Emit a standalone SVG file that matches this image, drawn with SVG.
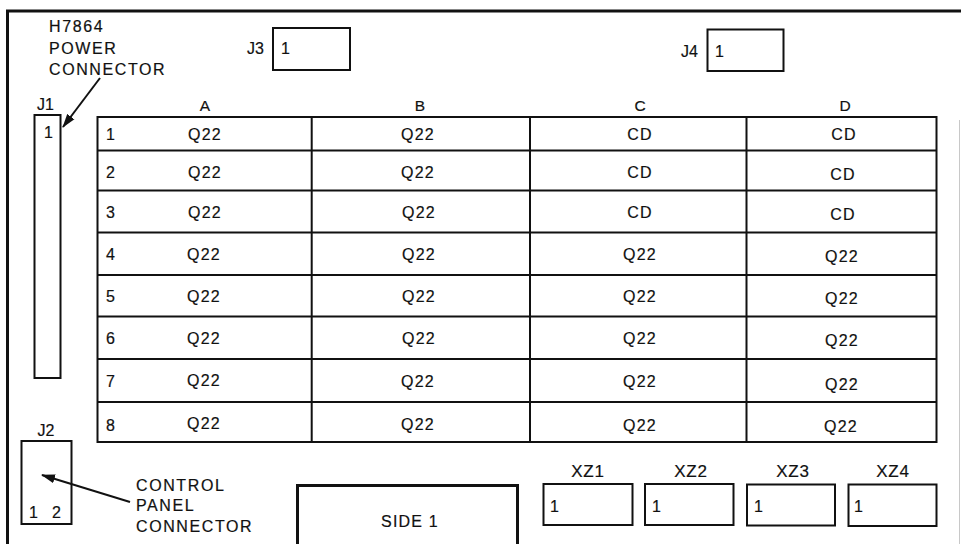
<svg xmlns="http://www.w3.org/2000/svg" width="961" height="544" viewBox="0 0 961 544">
<style>
text{font-family:"Liberation Sans",Arial,sans-serif;fill:#111;stroke:#111;stroke-width:0.2px;}
.lbl{font-size:16px;letter-spacing:1.6px;}
.t{font-size:16px;}
.hd{font-size:15.5px;text-anchor:middle;}
.cell{font-size:16px;text-anchor:middle;letter-spacing:1.2px;}
.xz{font-size:17px;text-anchor:middle;letter-spacing:0.8px;}
.box{fill:none;stroke:#111;stroke-width:2;}
.thick{fill:none;stroke:#111;stroke-width:3;}
.grid{fill:none;stroke:#111;stroke-width:2;}
.arrow{fill:none;stroke:#111;stroke-width:2;marker-end:url(#ah);}
</style>
<defs>
<marker id="ah" markerUnits="userSpaceOnUse" markerWidth="14" markerHeight="10" viewBox="0 0 14 10" refX="13" refY="5" orient="auto">
<path d="M0,0.5 L14,5 L0,9.5 Z" fill="#111"/>
</marker>
</defs>
<rect x="0" y="0" width="961" height="544" fill="#fff"/>
<g id="frame">
<path d="M7.5 544 V11 H961" class="thick"/>
<line x1="959.5" y1="120" x2="959.5" y2="544" stroke="#c8c8c8" stroke-width="1"/>
</g>
<g id="power-label">
<text class="lbl" x="49" y="32">H7864</text>
<text class="lbl" x="49" y="53.5">POWER</text>
<text class="lbl" x="49" y="75">CONNECTOR</text>
</g>
<g id="J3">
<text class="t" x="247" y="54">J3</text>
<rect class="box" x="273" y="28" width="77" height="42"/>
<text class="t" x="281" y="54">1</text>
</g>
<g id="J4">
<text class="t" x="681" y="56.5">J4</text>
<rect class="box" x="707.5" y="29.5" width="76" height="41.5"/>
<text class="t" x="715" y="56.5">1</text>
</g>
<g id="J1">
<text class="t" x="37" y="110">J1</text>
<rect class="box" x="34.5" y="115" width="26" height="263"/>
<text class="t" x="44" y="138">1</text>
</g>
<g id="table">
<rect class="grid" x="97.5" y="117" width="839" height="325"/>
<path class="grid" d="M97.5 150.5H936.5M97.5 190.5H936.5M97.5 232.5H936.5M97.5 275H936.5M97.5 316.5H936.5M97.5 359H936.5M97.5 402H936.5M311.7 117V442M530 117V442M746.5 117V442"/>
<text class="hd" x="205" y="111">A</text>
<text class="hd" x="420" y="111">B</text>
<text class="hd" x="640" y="111">C</text>
<text class="hd" x="845" y="111">D</text>
<g class="t">
<text x="106" y="140">1</text>
<text x="106" y="178">2</text>
<text x="106" y="218">3</text>
<text x="106" y="260">4</text>
<text x="106" y="302">5</text>
<text x="106" y="344">6</text>
<text x="106" y="387">7</text>
<text x="106" y="431">8</text>
</g>
<g id="colA">
<text class="cell" x="205" y="140">Q22</text>
<text class="cell" x="205" y="178">Q22</text>
<text class="cell" x="205" y="218">Q22</text>
<text class="cell" x="204" y="260">Q22</text>
<text class="cell" x="204" y="302">Q22</text>
<text class="cell" x="204" y="344">Q22</text>
<text class="cell" x="204" y="386">Q22</text>
<text class="cell" x="204" y="429">Q22</text>
</g>
<g id="colB">
<text class="cell" x="418" y="140">Q22</text>
<text class="cell" x="418" y="178">Q22</text>
<text class="cell" x="419" y="218">Q22</text>
<text class="cell" x="419" y="260">Q22</text>
<text class="cell" x="419" y="302">Q22</text>
<text class="cell" x="419" y="344">Q22</text>
<text class="cell" x="418" y="387">Q22</text>
<text class="cell" x="418" y="430">Q22</text>
</g>
<g id="colC">
<text class="cell" x="640" y="140">CD</text>
<text class="cell" x="640" y="178">CD</text>
<text class="cell" x="640" y="218">CD</text>
<text class="cell" x="640" y="260">Q22</text>
<text class="cell" x="640" y="302">Q22</text>
<text class="cell" x="640" y="344">Q22</text>
<text class="cell" x="640" y="387">Q22</text>
<text class="cell" x="640" y="431">Q22</text>
</g>
<g id="colD">
<text class="cell" x="844" y="140">CD</text>
<text class="cell" x="843" y="180">CD</text>
<text class="cell" x="843" y="220">CD</text>
<text class="cell" x="842" y="262">Q22</text>
<text class="cell" x="842" y="304">Q22</text>
<text class="cell" x="842" y="346">Q22</text>
<text class="cell" x="842" y="390">Q22</text>
<text class="cell" x="841" y="432">Q22</text>
</g>
</g>
<g id="J2">
<text class="t" x="46" y="436" text-anchor="middle">J2</text>
<rect class="box" x="21.5" y="441" width="50" height="83"/>
<text class="t" x="29" y="518">1</text>
<text class="t" x="52" y="518">2</text>
</g>
<g id="control-label">
<text class="lbl" x="136" y="490.5">CONTROL</text>
<text class="lbl" x="136" y="511">PANEL</text>
<text class="lbl" x="136" y="531.5">CONNECTOR</text>
</g>
<g id="SIDE1">
<path class="thick" d="M297.5 545 V485.5 H517.5 V545"/>
<text class="t" x="410" y="527" text-anchor="middle" letter-spacing="1.2">SIDE 1</text>
</g>
<g id="XZ1">
<text class="xz" x="588" y="477">XZ1</text>
<rect class="box" x="543.5" y="484" width="89" height="41"/>
<text class="t" x="550" y="512">1</text>
</g>
<g id="XZ2">
<text class="xz" x="691" y="477">XZ2</text>
<rect class="box" x="645" y="484" width="88.5" height="41"/>
<text class="t" x="652" y="512">1</text>
</g>
<g id="XZ3">
<text class="xz" x="793" y="477">XZ3</text>
<rect class="box" x="747" y="484.5" width="88" height="41"/>
<text class="t" x="754" y="512">1</text>
</g>
<g id="XZ4">
<text class="xz" x="893" y="477">XZ4</text>
<rect class="box" x="848.5" y="484.5" width="88" height="41.5"/>
<text class="t" x="854" y="512">1</text>
</g>
<g id="connectors">
<line class="arrow" x1="100" y1="78" x2="63" y2="127"/>
<line class="arrow" x1="130" y1="502" x2="42" y2="475"/>
</g>
</svg>
